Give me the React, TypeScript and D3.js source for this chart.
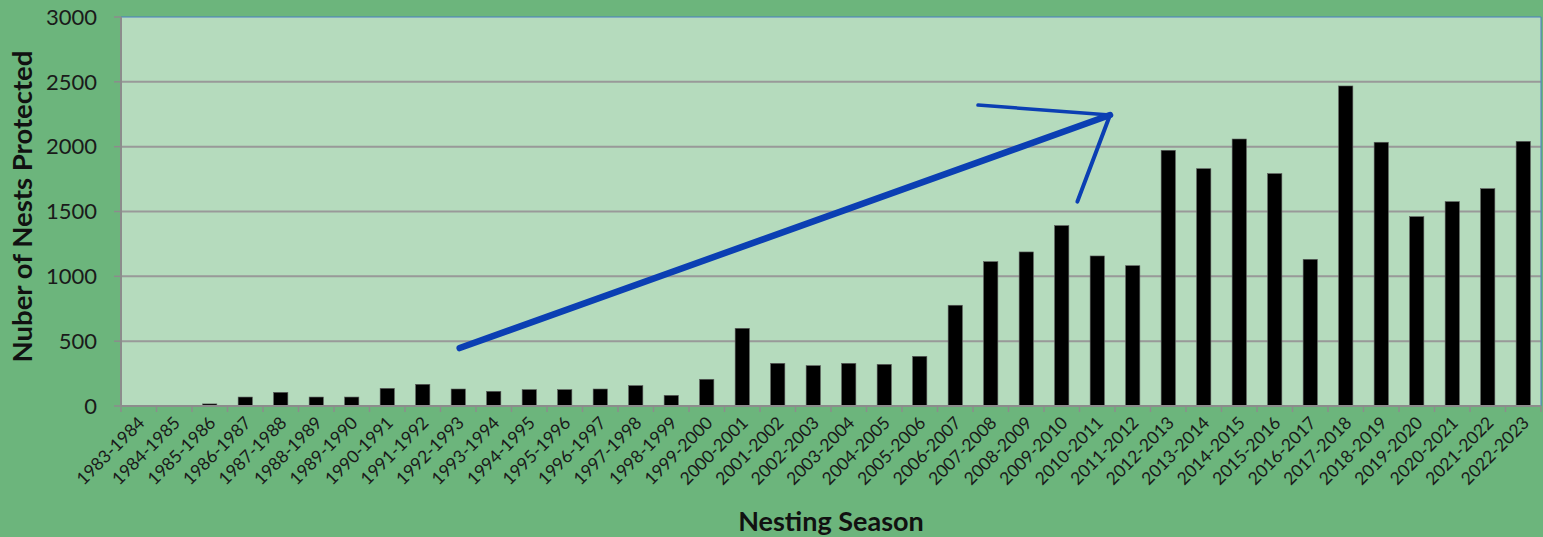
import React from "react";
import * as d3 from "d3";

const seasons: string[] = [
  "1983-1984", "1984-1985", "1985-1986", "1986-1987", "1987-1988", "1988-1989", "1989-1990", "1990-1991",
  "1991-1992", "1992-1993", "1993-1994", "1994-1995", "1995-1996", "1996-1997", "1997-1998", "1998-1999",
  "1999-2000", "2000-2001", "2001-2002", "2002-2003", "2003-2004", "2004-2005", "2005-2006", "2006-2007",
  "2007-2008", "2008-2009", "2009-2010", "2010-2011", "2011-2012", "2012-2013", "2013-2014", "2014-2015",
  "2015-2016", "2016-2017", "2017-2018", "2018-2019", "2019-2020", "2020-2021", "2021-2022", "2022-2023",
];

const nests: number[] = [
  0, 0, 16, 69, 105, 69, 69, 136,
  167, 131, 113, 126, 126, 131, 157, 82,
  206, 599, 329, 311, 329, 321, 383, 777,
  1113, 1188, 1391, 1157, 1082, 1972, 1830, 2059,
  1792, 1131, 2468, 2034, 1460, 1576, 1676, 2041,
];

const yTicks: number[] = [0, 500, 1000, 1500, 2000, 2500, 3000];

// hand-drawn trend arrow, in (category position, value) units
const arrowShaft: [number, number][] = [[9.54, 447], [27.86, 2244]];
const arrowHeadUpper: [number, number][] = [[24.14, 2321], [27.86, 2244]];
const arrowHeadLower: [number, number][] = [[26.94, 1576], [27.86, 2244]];

const W = 1543;
const H = 537;
const M = { left: 121, right: 2, top: 17, bottom: 131 };

const FONT = "Lato, 'Open Sans', sans-serif";

export default function App() {
  const x = d3
    .scaleBand<string>()
    .domain(seasons)
    .range([M.left, W - M.right])
    .paddingInner(0.6)
    .paddingOuter(0.3);
  const xc = d3.scaleLinear().domain([0, seasons.length]).range([M.left, W - M.right]);
  const y = d3.scaleLinear().domain([0, 3000]).range([H - M.bottom, M.top]);
  const line = d3
    .line<[number, number]>()
    .x((d) => xc(d[0]))
    .y((d) => y(d[1]));

  const plotW = W - M.right - M.left;
  const plotH = H - M.bottom - M.top;
  const y0 = y(0);

  return (
    <svg
      width={W}
      height={H}
      style={{ position: "absolute", left: 0, top: 0, display: "block" }}
    >
      <rect x={0} y={0} width={W} height={H} fill="#6cb57c" />
      <rect x={M.left} y={M.top} width={plotW} height={plotH} fill="#b5dbbd" />

      {/* gridlines */}
      {yTicks.map((t) => (
        <line
          key={"g" + t}
          x1={M.left}
          x2={W - M.right}
          y1={y(t)}
          y2={y(t)}
          stroke={t === 3000 ? "#4a7cc4" : "#999999"}
          strokeWidth={t === 3000 ? 1 : 2}
        />
      ))}
      {/* right border */}
      <line x1={W - M.right} x2={W - M.right} y1={M.top} y2={y0} stroke="#4a7cc4" strokeWidth={1} />

      {/* y axis */}
      <line x1={M.left} x2={M.left} y1={M.top} y2={y0} stroke="#8c8c8c" strokeWidth={2} />
      {yTicks.map((t) => (
        <g key={"yt" + t}>
          <line x1={M.left - 7} x2={M.left} y1={y(t)} y2={y(t)} stroke="#8c8c8c" strokeWidth={1.5} />
          <text
            x={97}
            y={y(t)}
            dy="0.35em"
            textAnchor="end"
            fontFamily={FONT}
            fontSize={22}
            fill="#1a1a1a"
          >
            {t}
          </text>
        </g>
      ))}

      {/* bars */}
      {seasons.map((s, i) => (
        <rect
          key={"b" + s}
          x={x(s)}
          y={y(nests[i])}
          width={x.bandwidth()}
          height={y0 - y(nests[i])}
          fill="#000000"
          stroke="#5a5a5a"
          strokeWidth={0.6}
        />
      ))}

      {/* x axis */}
      <line x1={M.left} x2={W - M.right} y1={y0} y2={y0} stroke="#8c8c8c" strokeWidth={2} />
      {d3.range(seasons.length + 1).map((i) => (
        <line
          key={"xt" + i}
          x1={xc(i)}
          x2={xc(i)}
          y1={y0}
          y2={y0 + 6}
          stroke="#8c8c8c"
          strokeWidth={1.5}
        />
      ))}
      {seasons.map((s, i) => (
        <text
          key={"xl" + s}
          transform={`translate(${xc(i + 0.5) + 7},${y0 + 18}) rotate(-45)`}
          textAnchor="end"
          fontFamily={FONT}
          fontSize={17.5}
          fill="#1a1a1a"
        >
          {s}
        </text>
      ))}

      {/* trend arrow */}
      <path d={line(arrowShaft) ?? ""} stroke="#0b3fb3" strokeWidth={6.5} fill="none" strokeLinecap="round" />
      <path d={line(arrowHeadUpper) ?? ""} stroke="#0b3fb3" strokeWidth={3.5} fill="none" strokeLinecap="round" />
      <path d={line(arrowHeadLower) ?? ""} stroke="#0b3fb3" strokeWidth={4} fill="none" strokeLinecap="round" />

      {/* axis titles */}
      <text
        transform={`translate(32,${(M.top + y0) / 2 - 5}) rotate(-90)`}
        textAnchor="middle"
        fontFamily={FONT}
        fontWeight="bold"
        fontSize={27.5}
        fill="#111111"
      >
        Nuber of Nests Protected
      </text>
      <text
        x={831}
        y={531}
        textAnchor="middle"
        fontFamily={FONT}
        fontWeight="bold"
        fontSize={27}
        fill="#111111"
      >
        Nesting Season
      </text>
    </svg>
  );
}
